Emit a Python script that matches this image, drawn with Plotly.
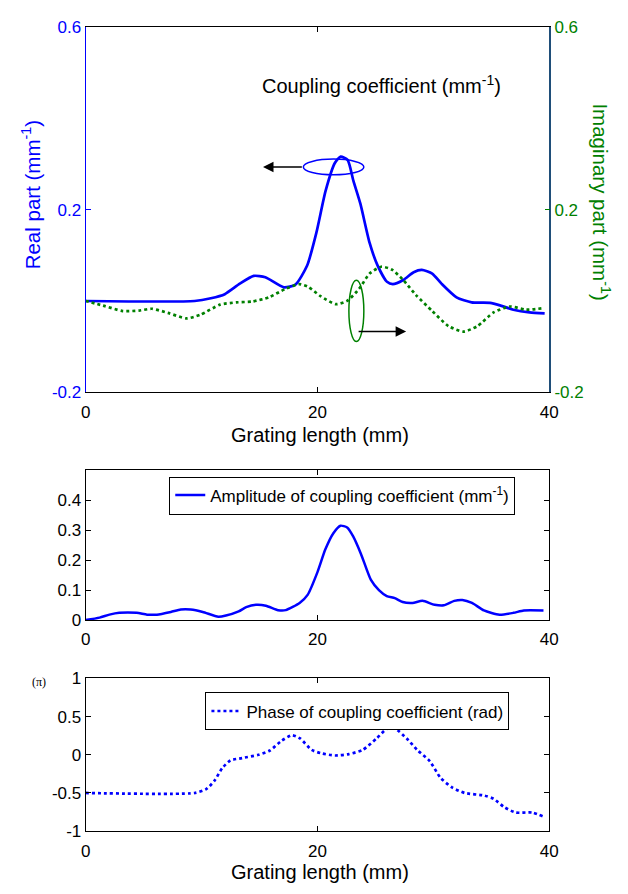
import plotly.graph_objects as go

# ---------------- data ----------------
real_x = [0, 9.4, 10.8, 12.0, 13.3, 14.5, 15.5, 17.1, 18.1, 19.1, 19.9, 20.7, 21.5, 22.0, 22.6,
          23.1, 23.7, 24.5, 25.2, 26.0, 26.5, 27.4, 28.3, 29.0, 29.9, 30.7, 32.0, 33.3, 34.9,
          35.8, 36.9, 38.3, 39.6]
real_y = [0, 0, 0.006, 0.015, 0.038, 0.055, 0.052, 0.030, 0.036, 0.077, 0.149, 0.241, 0.302,
          0.316, 0.309, 0.263, 0.213, 0.127, 0.077, 0.042, 0.037, 0.046, 0.063, 0.068, 0.060,
          0.038, 0.008, -0.003, -0.004, -0.010, -0.019, -0.025, -0.027]

imag_x = [0, 1.5, 3.2, 4.6, 5.7, 7.1, 8.7, 9.9, 11.6, 13.0, 14.4, 15.8, 17.2, 18.4, 19.2, 20.3,
          21.6, 22.6, 23.6, 24.5, 25.5, 26.4, 27.4, 28.5, 29.9, 31.3, 32.6, 33.8, 35.2, 36.6,
          38.0, 39.4]
imag_y = [0, -0.010, -0.022, -0.021, -0.017, -0.026, -0.038, -0.030, -0.008, -0.003, -0.001,
          0.008, 0.026, 0.037, 0.031, 0.010, -0.007, 0.001, 0.027, 0.060, 0.075, 0.069, 0.046,
          0.013, -0.022, -0.055, -0.067, -0.055, -0.025, -0.012, -0.019, -0.016]

amp_x = [0, 1.2, 2.05, 2.9, 4.4, 5.3, 6.15, 7.35, 8.2, 9.06, 10.1, 11.45, 12.1, 13.2, 13.85,
         14.7, 15.55, 16.6, 17.26, 18.46, 19.15, 20.0, 20.68, 21.37, 21.98, 22.56, 23.08,
         23.76, 24.6, 25.3, 25.98, 26.67, 27.35, 28.2, 29.06, 30.1, 30.9, 31.8, 32.5, 33.33,
         34.36, 35.7, 36.9, 37.8, 39.5]
amp_y = [0, 0.008, 0.018, 0.024, 0.024, 0.018, 0.018, 0.027, 0.035, 0.035, 0.027, 0.011,
         0.015, 0.029, 0.043, 0.051, 0.048, 0.033, 0.033, 0.057, 0.084, 0.160, 0.236, 0.290,
         0.315, 0.309, 0.279, 0.220, 0.135, 0.100, 0.080, 0.073, 0.060, 0.057, 0.064, 0.051,
         0.049, 0.064, 0.067, 0.057, 0.032, 0.018, 0.024, 0.032, 0.032]

phase_x = [0, 9.4, 10.4, 11.1, 11.8, 12.5, 13.5, 14.9, 15.9, 16.9, 17.8, 18.5, 19.5, 20.3,
           21.5, 22.7, 23.9, 25.1, 26.0, 26.7, 27.7, 28.6, 29.7, 30.6, 31.6, 32.7, 34.4, 35.2,
           36.1, 37.1, 38.5, 39.5]
phase_y = [-0.5, -0.5, -0.449, -0.342, -0.171, -0.073, -0.043, 0, 0.056, 0.184, 0.256, 0.214,
           0.064, 0.021, -0.009, 0.009, 0.064, 0.214, 0.342, 0.342, 0.214, 0.064, -0.085,
           -0.299, -0.427, -0.5, -0.534, -0.577, -0.684, -0.756, -0.756, -0.81]

x_ticks = [0, 20, 40]
x_ticklabels = ["0", "20", "40"]
top_yticks = [-0.2, 0.2, 0.6]
top_yticklabels = ["-0.2", "0.2", "0.6"]
amp_yticks = [0, 0.1, 0.2, 0.3, 0.4]
amp_yticklabels = ["0", "0.1", "0.2", "0.3", "0.4"]
phase_yticks = [-1, -0.5, 0, 0.5, 1]
phase_yticklabels = ["-1", "-0.5", "0", "0.5", "1"]

# ---------------- styling ----------------
FONT = "Liberation Sans, Arial, Helvetica, sans-serif"
BLUE = "#0000ff"
GREEN = "#008000"
W, H = 628, 894   # page size; the figure fills the whole browser viewport

def px_x(p):
    return p / W

def px_y(p):
    return 1 - p / H

XDOM = [px_x(82.5), px_x(556.7)]

fig = go.Figure()

fig.add_trace(go.Scatter(x=real_x, y=real_y, mode="lines", xaxis="x", yaxis="y",
                         line=dict(color=BLUE, width=2.7, shape="spline", smoothing=0.6),
                         showlegend=False, name="Real part"))
fig.add_trace(go.Scatter(x=imag_x, y=imag_y, mode="lines", xaxis="x", yaxis="y2",
                         line=dict(color=GREEN, width=2.7, dash="dot", shape="spline", smoothing=0.6),
                         showlegend=False, name="Imaginary part"))
fig.add_trace(go.Scatter(x=amp_x, y=amp_y, mode="lines", xaxis="x2", yaxis="y3",
                         line=dict(color=BLUE, width=2.5, shape="spline", smoothing=0.6),
                         name="Amplitude of coupling coefficient (mm<sup>-1</sup>)",
                         legend="legend"))
fig.add_trace(go.Scatter(x=phase_x, y=phase_y, mode="lines", xaxis="x3", yaxis="y4",
                         line=dict(color=BLUE, width=2.7, dash="dot", shape="spline", smoothing=0.6),
                         name="Phase of coupling coefficient (rad)",
                         legend="legend2"))

tickfont = dict(family=FONT, size=17, color="black")

def xaxis(anchor):
    return dict(domain=XDOM, anchor=anchor, range=[0, 40], tickvals=x_ticks,
                ticktext=x_ticklabels, ticks="inside", ticklen=5, tickcolor="black",
                showline=True, linecolor="black", linewidth=1, mirror="ticks",
                showgrid=False, zeroline=False, tickfont=tickfont, ticklabelstandoff=4)

def yaxis(dom, rng, tv, tt, **kw):
    d = dict(domain=dom, range=rng, tickvals=tv, ticktext=tt, ticks="inside", ticklen=5,
             tickcolor="black", showline=True, linecolor="black", linewidth=1,
             mirror="ticks", showgrid=False, zeroline=False, tickfont=tickfont)
    d.update(kw)
    return d

fig.update_layout(
    autosize=True, margin=dict(l=0, r=0, t=0, b=0),
    paper_bgcolor="white", plot_bgcolor="white",
    font=dict(family=FONT, color="black"),
    xaxis=xaxis("y"),
    xaxis2=xaxis("y3"),
    xaxis3=xaxis("y4"),
    yaxis=yaxis([px_y(391.7), px_y(18.3)], [-0.2, 0.6], top_yticks, top_yticklabels,
                anchor="x", linecolor=BLUE, tickcolor=BLUE, mirror=False,
                tickfont=dict(family=FONT, size=17, color=BLUE)),
    yaxis2=dict(overlaying="y", side="right", anchor="x", range=[-0.2, 0.6],
                tickvals=top_yticks, ticktext=top_yticklabels, ticks="inside", ticklen=5,
                tickcolor=GREEN, showline=True, linecolor="#1f4e79", linewidth=1.5,
                showgrid=False, zeroline=False,
                tickfont=dict(family=FONT, size=17, color=GREEN)),
    yaxis3=yaxis([px_y(624.3), px_y(470.7)], [0, 0.502], amp_yticks, amp_yticklabels,
                 anchor="x2"),
    yaxis4=yaxis([px_y(840), px_y(684)], [-1, 1], phase_yticks, phase_yticklabels,
                 anchor="x3"),
    legend=dict(x=px_x(168), y=px_y(477.7), xanchor="left", yanchor="top",
                bgcolor="white", bordercolor="black", borderwidth=1,
                font=dict(family=FONT, size=17, color="black"), itemwidth=30),
    legend2=dict(x=px_x(205), y=px_y(698.3), xanchor="left", yanchor="top",
                 bgcolor="white", bordercolor="black", borderwidth=1,
                 font=dict(family=FONT, size=17, color="black"), itemwidth=30),
)

# ellipses marking the curves
fig.add_shape(type="circle", xref="x", yref="y", x0=18.78, x1=24.0, y0=0.2764, y1=0.3106,
              line=dict(color=BLUE, width=1.5))
fig.add_shape(type="circle", xref="x", yref="y", x0=22.71, x1=24.0, y0=-0.0888, y1=0.0453,
              line=dict(color=GREEN, width=1.5))

def label(x, y, text, size, color="black", angle=0, family=FONT):
    return dict(x=px_x(x), y=px_y(y), xref="paper", yref="paper", showarrow=False,
                xanchor="center", yanchor="middle", textangle=angle, text=text,
                font=dict(family=family, size=size, color=color))

annotations = [
    dict(x=15.3, y=0.2935, ax=18.78, ay=0.2935, xref="x", yref="y", axref="x", ayref="y",
         text="", showarrow=True, arrowhead=2, arrowsize=1.4, arrowwidth=1.5, arrowcolor="black"),
    dict(x=27.65, y=-0.0667, ax=23.42, ay=-0.0667, xref="x", yref="y", axref="x", ayref="y",
         text="", showarrow=True, arrowhead=2, arrowsize=1.4, arrowwidth=1.5, arrowcolor="black"),
    label(385, 77, "Coupling coefficient (mm<sup>-1</sup>)", 20),
    label(27, 190, "Real part (mm<sup>-1</sup>)", 20.5, BLUE, -90),
    label(610, 197, "Imaginary part (mm<sup>-1</sup>)", 20.5, GREEN, 90),
    label(322, 435, "Grating length (mm)", 20),
    label(322, 882, "Grating length (mm)", 20),
    label(35, 688, "(\u03c0)", 12, family="Liberation Serif, Times New Roman, serif"),
]
fig.update_layout(annotations=annotations)

fig.write_html("out.html", config={"displayModeBar": False, "responsive": True},
               default_width="100vw", default_height="100vh",
               post_script="document.body.style.margin='0';"
                           "document.body.style.overflow='hidden';"
                           "window.dispatchEvent(new Event('resize'));")
